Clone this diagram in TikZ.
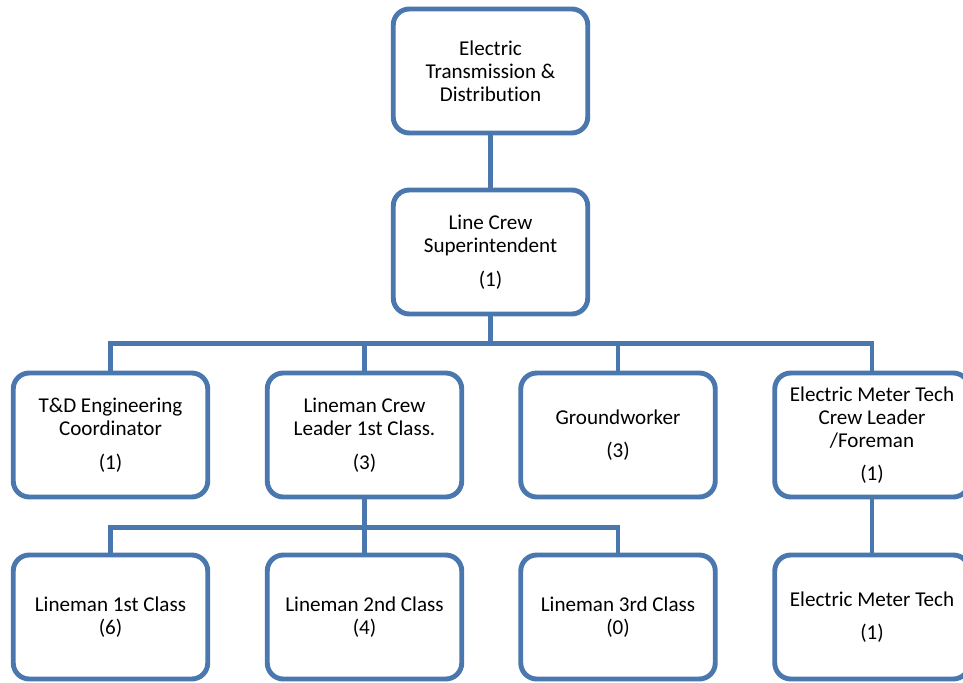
\documentclass[tikz,border=0pt]{standalone}
\usepackage{fontspec}
\setmainfont[Ligatures=CommonOff]{Carlito}
\definecolor{orgblue}{HTML}{4A77AE}
\begin{document}
\begin{tikzpicture}[
    box/.style={draw=orgblue, line width=2.8pt, rounded corners=0.32cm,
        minimum width=3.89cm, minimum height=2.48cm, inner sep=0pt,
        align=center, font=\fontsize{12}{13.1}\selectfont},
    link/.style={draw=orgblue, line width=2.8pt}]

    % fix the page to the size of the reference
    \useasboundingbox (0,0) rectangle (19.26,-13.66);

    % the top two boxes
    \node[box] (etd) at (9.81,-1.42) {Electric\\Transmission \&\\Distribution};
    \node[box] (super) at (9.81,-5.04) {Line Crew\\Superintendent\\[6pt](1)};

    % the third row
    \node[box] (tdc) at (2.21,-8.70) {T\&D Engineering\\Coordinator\\[6pt](1)};
    \node[box] (lcl) at (7.29,-8.70) {Lineman Crew\\Leader 1st Class.\\[6pt](3)};
    \node[box] (gw) at (12.36,-8.70) {Groundworker\\[6pt](3)};
    \node[box] (emtl) at (17.44,-8.70) {Electric Meter Tech\\Crew Leader\\/Foreman\\[6pt](1)};

    % the bottom row
    \node[box] (lm1) at (2.21,-12.34) {Lineman 1st Class\\(6)};
    \node[box] (lm2) at (7.29,-12.34) {Lineman 2nd Class\\(4)};
    \node[box] (lm3) at (12.36,-12.34) {Lineman 3rd Class\\(0)};
    \node[box] (emt) at (17.44,-12.34) {Electric Meter Tech\\[6pt](1)};

    % the connectors
    \draw[link] (etd) -- (super);
    \foreach \c in {tdc,lcl,gw,emtl}
    \draw[link] (super.south) -- ++(0,-0.54) -| (\c.north);
    \foreach \c in {lm1,lm2,lm3}
    \draw[link] (lcl.south) -- ++(0,-0.56) -| (\c.north);
    \draw[link] (emtl) -- (emt);
\end{tikzpicture}
\end{document}
